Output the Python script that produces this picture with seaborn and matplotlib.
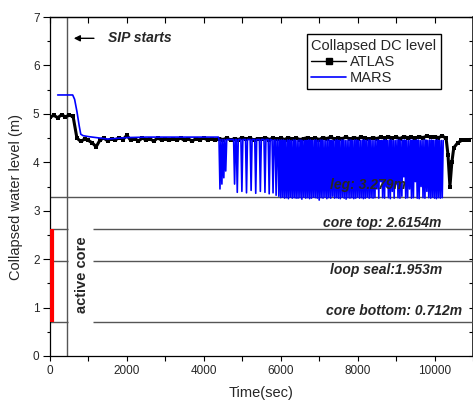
import matplotlib
matplotlib.use("Agg")
import matplotlib.pyplot as plt
import seaborn as sns
import pandas as pd
from matplotlib.lines import Line2D
from matplotlib.ticker import MultipleLocator

# ---------------- data ----------------
atlas_t = list(range(0, 10300, 100)) + [10300, 10350, 10400, 10450, 10500, 10600, 10700, 10800, 10900]
atlas_v = [4.93, 4.97, 4.92, 4.98, 4.94, 4.97, 4.95, 4.50, 4.43, 4.48,
           4.45, 4.40, 4.32, 4.46, 4.50, 4.44, 4.49, 4.46, 4.51, 4.47,
           4.56, 4.45, 4.49, 4.44, 4.50, 4.46, 4.48, 4.44, 4.50, 4.46,
           4.48, 4.45, 4.49, 4.46, 4.50, 4.45, 4.48, 4.44, 4.49, 4.47,
           4.50, 4.46, 4.48, 4.45, 4.49, 4.47, 4.50, 4.46, 4.49, 4.47,
           4.51, 4.48, 4.50, 4.46, 4.49, 4.48, 4.51, 4.47, 4.50, 4.48,
           4.50, 4.47, 4.51, 4.48, 4.50, 4.47, 4.49, 4.51, 4.48, 4.50,
           4.47, 4.51, 4.49, 4.52, 4.48, 4.50, 4.49, 4.52, 4.48, 4.51,
           4.49, 4.52, 4.50, 4.48, 4.51, 4.49, 4.52, 4.50, 4.53, 4.50,
           4.52, 4.49, 4.53, 4.51, 4.52, 4.50, 4.53, 4.51, 4.54, 4.52,
           4.53, 4.51, 4.54,
           4.50, 4.15, 3.50, 4.00, 4.30, 4.40, 4.45, 4.47, 4.47]

mars_init_t = [200, 590, 640, 700, 760, 800, 860, 1000, 1500, 2000, 2500, 3000, 3500, 4000, 4380]
mars_init_v = [5.39, 5.39, 5.30, 5.05, 4.75, 4.58, 4.55, 4.53, 4.48, 4.51, 4.52, 4.52, 4.52, 4.52, 4.52]

# oscillation minima of MARS (time of each dip, dip bottom, level before/after)
spike_t = [4420, 4470, 4520, 4570, 4800, 4870, 4990, 5110, 5230, 5350, 5470, 5590, 5700, 5800, 5880,
           5950, 6000, 6050, 6100, 6150, 6200, 6250, 6300, 6350, 6400,
           6450, 6500, 6550, 6600, 6650, 6700, 6750, 6800, 6850, 6900,
           6950, 7000, 7050, 7100, 7150, 7200, 7250, 7300, 7350, 7400,
           7450, 7500, 7550, 7600, 7650, 7700, 7750, 7800, 7850, 7900,
           7950, 8000, 8050, 8100, 8150, 8200, 8250, 8300, 8350, 8400,
           8450, 8500, 8550, 8600, 8650, 8700, 8750, 8800, 8850, 8900,
           8950, 9000, 9050, 9100, 9150, 9200, 9250, 9300, 9350, 9400,
           9450, 9500, 9550, 9600, 9650, 9700, 9750, 9800, 9850, 9900,
           9950, 10000, 10050, 10100, 10150, 10200]
spike_min = [3.45, 3.55, 3.68, 3.82, 3.55, 3.38, 3.40, 3.37, 3.42, 3.36, 3.40, 3.38, 3.35, 3.37, 3.32,
             3.30, 3.27, 3.28, 3.26, 3.27, 3.25, 3.28, 3.26, 3.27, 3.26,
             3.26, 3.27, 3.24, 3.28, 3.26, 3.27, 3.25, 3.26, 3.28, 3.27,
             3.26, 3.22, 3.27, 3.26, 3.28, 3.25, 3.27, 3.26, 3.30, 3.26,
             3.27, 3.26, 3.25, 3.28, 3.26, 3.24, 3.27, 3.26, 3.27, 3.25,
             3.26, 3.28, 3.26, 3.27, 3.25, 3.26, 3.28, 3.26, 3.27, 3.26,
             3.27, 3.45, 3.26, 3.60, 3.27, 3.26, 3.50, 3.27, 3.25, 3.40,
             3.26, 3.55, 3.27, 3.26, 3.30, 3.70, 3.26, 3.27, 3.45, 3.26,
             3.27, 3.60, 3.26, 3.25, 3.50, 3.27, 3.26, 3.40, 3.27, 3.26,
             3.28, 3.26, 3.25, 3.27, 3.26, 3.27]
spike_top = [4.47, 4.47, 4.47, 4.47, 4.47, 4.47, 4.47, 4.47, 4.47, 4.47, 4.47, 4.47, 4.47, 4.46, 4.46,
             4.46, 4.45, 4.46, 4.45, 4.45, 4.46, 4.45, 4.45, 4.46, 4.45,
             4.45, 4.46, 4.45, 4.45, 4.30, 4.45, 4.46, 4.45, 4.45, 4.46,
             4.45, 4.45, 4.46, 4.45, 4.45, 4.45, 4.46, 4.45, 4.35, 4.45,
             4.46, 4.45, 4.45, 4.46, 4.45, 4.45, 4.45, 4.46, 4.45, 4.45,
             4.46, 4.45, 4.45, 4.45, 4.46, 4.45, 4.45, 4.46, 4.45, 4.45,
             4.45, 4.46, 4.45, 4.45, 4.45, 4.46, 4.45, 4.45, 4.46, 4.45,
             4.45, 4.45, 4.46, 4.45, 4.45, 4.46, 4.45, 4.45, 4.45, 4.46,
             4.45, 4.45, 4.46, 4.45, 4.45, 4.45, 4.46, 4.45, 4.45, 4.46,
             4.45, 4.45, 4.46, 4.45, 4.45, 4.45]

sip_start = 440
core_top = 2.6154
loop_seal = 1.953
core_bottom = 0.712
leg_level = 3.279

# build MARS series: each dip goes down from its level and back up
mars_t = list(mars_init_t)
mars_v = list(mars_init_v)
for t, lo, hi in zip(spike_t, spike_min, spike_top):
    mars_t += [t - 25, t, t + 25]
    mars_v += [hi, lo, hi]

atlas = pd.DataFrame({"t": atlas_t, "v": atlas_v})
mars = pd.DataFrame({"t": mars_t, "v": mars_v})

# ---------------- style ----------------
sns.set_theme(style="ticks")
plt.rcParams["font.family"] = ["Liberation Sans", "DejaVu Sans"]

fig = plt.figure(figsize=(4.73, 4.03), dpi=100)
W, H = 473, 403
ax = fig.add_axes([50 / W, 1 - 356 / H, 423 / W, 339 / H])

sns.lineplot(data=atlas, x="t", y="v", ax=ax, color="black", lw=2.2, marker="s",
             markersize=3.4, markeredgewidth=0, estimator=None, sort=False, zorder=3)
sns.lineplot(data=mars, x="t", y="v", ax=ax, color="#0000ff", lw=1.2,
             estimator=None, sort=False, zorder=4)

gray = "#555555"
ax.axvline(sip_start, color=gray, lw=1.0, zorder=2)
ax.axhline(leg_level, color=gray, lw=1.0, zorder=2)
for lvl in [core_top, loop_seal, core_bottom]:
    ax.hlines(lvl, 0, 470, color=gray, lw=1.0, zorder=2)
    ax.hlines(lvl, 1125, 11000, color=gray, lw=1.0, zorder=2)
ax.vlines(65, core_bottom, core_top, color="#ff0000", lw=3.0, zorder=5)

ax.set_xlim(0, 11000)
ax.set_ylim(0, 7)

# annotations
tf = dict(fontsize=10, fontweight="bold", fontstyle="italic", zorder=8)
ax.annotate("", xy=(546, 6.56), xytext=(1215, 6.56),
            arrowprops=dict(arrowstyle="-|>", color="black", lw=1.0, mutation_scale=9))
ax.text(1508, 6.56, "SIP starts", ha="left", va="center", **tf)
ax.text(7282, 3.53, "leg: 3.279m", ha="left", va="center", **tf)
ax.text(10169, 2.75, "core top: 2.6154m", ha="right", va="center", **tf)
ax.text(10195, 1.78, "loop seal:1.953m", ha="right", va="center", **tf)
ax.text(10715, 0.93, "core bottom: 0.712m", ha="right", va="center", **tf)
ax.text(832, 1.67, "active core", ha="center", va="center", rotation=90,
        fontsize=10.5, fontweight="bold", zorder=8)

# axes labels and ticks
ax.set_xlabel("Time(sec)", fontsize=10.5)
ax.set_ylabel("Collapsed water level (m)", fontsize=10.5)
ax.xaxis.set_label_coords(0.5, -0.088)
ax.yaxis.set_label_coords(-0.063, 0.4705)

ax.xaxis.set_major_locator(MultipleLocator(2000))
ax.xaxis.set_minor_locator(MultipleLocator(1000))
ax.yaxis.set_major_locator(MultipleLocator(1))
ax.yaxis.set_minor_locator(MultipleLocator(0.5))
ax.tick_params(axis="x", which="major", direction="out", length=3.5, width=0.8,
               labelsize=8.5, pad=3, color="black")
ax.tick_params(axis="x", which="minor", direction="out", length=3.5, width=0.8, color="black")
ax.tick_params(axis="y", which="major", direction="out", length=5, width=0.8,
               labelsize=8.5, pad=2.5, color="black")
ax.tick_params(axis="y", which="minor", direction="out", length=2.5, width=0.8, color="black")

for s in ["top", "left", "bottom", "right"]:
    ax.spines[s].set_visible(True)
    ax.spines[s].set_color("black")
    ax.spines[s].set_linewidth(0.9)

top = ax.secondary_xaxis("top")
top.xaxis.set_major_locator(MultipleLocator(1000))
top.tick_params(direction="in", length=4, width=0.8, labeltop=False, color="black")
top.spines["top"].set_linewidth(0.9)
right = ax.secondary_yaxis("right")
right.yaxis.set_major_locator(MultipleLocator(0.5))
right.tick_params(direction="in", length=3, width=0.8, labelright=False, color="black")

handles = [Line2D([], [], color="black", lw=1.0, marker="s", markersize=4),
           Line2D([], [], color="#0000ff", lw=1.2)]
leg = ax.legend(handles, ["ATLAS", "MARS"], title="Collapsed DC level",
                loc="upper left", bbox_to_anchor=(0.607, 0.949), borderaxespad=0,
                fontsize=10.5, title_fontsize=10.5, frameon=True, fancybox=False,
                edgecolor="black", framealpha=1, borderpad=0.3, handlelength=2.4,
                handletextpad=0.25, labelspacing=0.15, alignment="left")
leg.get_frame().set_linewidth(1.0)

fig.savefig("out.png", dpi=100)
